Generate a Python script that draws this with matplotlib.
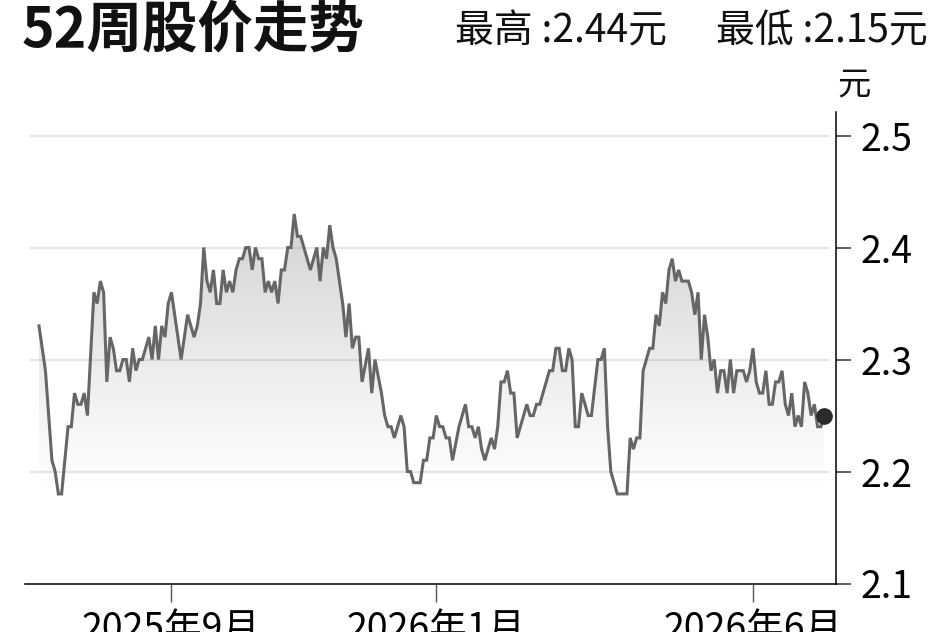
import numpy as np
import matplotlib
matplotlib.use("Agg")
import matplotlib.pyplot as plt

# ---- data (trading-day index, closing price) ----
days = [0, 2, 4, 5, 6, 7, 9, 10, 11, 12, 13, 14, 15, 17, 18, 19, 20, 21, 22, 23,
        24, 25, 26, 27, 28, 29, 30, 31, 32, 33, 34, 35, 36, 37, 38, 39, 40, 41, 42, 44,
        46, 47, 48, 49, 50, 51, 52, 53, 54, 55, 56, 57, 58, 59, 60, 61, 62, 63, 64, 65,
        66, 67, 68, 69, 70, 71, 72, 73, 74, 75, 76, 77, 78, 79, 80, 81, 82, 84, 86, 87,
        88, 89, 90, 91, 92, 93, 94, 95, 96, 97, 98, 99, 100, 102, 103, 104, 106, 107, 108, 109,
        110, 112, 113, 114, 115, 116, 118, 119, 120, 121, 122, 123, 124, 125, 126, 127, 128, 130, 132, 133,
        134, 135, 136, 137, 138, 140, 141, 142, 143, 144, 145, 146, 147, 148, 151, 152, 153, 154, 155, 158,
        159, 160, 161, 162, 163, 164, 165, 166, 167, 168, 170, 171, 173, 174, 175, 176, 177, 178, 179, 182,
        183, 184, 185, 186, 187, 189, 190, 191, 192, 193, 194, 195, 196, 197, 198, 199, 201, 202, 203, 204,
        205, 206, 207, 208, 209, 210, 211, 212, 213, 214, 215, 216, 218, 219, 220, 221, 222, 223, 224, 225,
        226, 227, 228, 229, 230, 231, 232, 233, 234, 235, 236, 237, 238, 239, 240, 241, 242, 243]
price = [2.33, 2.29, 2.21, 2.20, 2.18, 2.18, 2.24, 2.24, 2.27, 2.26, 2.26, 2.27, 2.25, 2.36, 2.35, 2.37, 2.36, 2.28, 2.32, 2.31,
         2.29, 2.29, 2.30, 2.30, 2.28, 2.31, 2.29, 2.30, 2.30, 2.31, 2.32, 2.30, 2.33, 2.30, 2.33, 2.32, 2.35, 2.36, 2.34, 2.30,
         2.34, 2.33, 2.32, 2.33, 2.35, 2.40, 2.37, 2.36, 2.38, 2.35, 2.35, 2.38, 2.36, 2.37, 2.36, 2.38, 2.39, 2.39, 2.40, 2.40,
         2.38, 2.40, 2.39, 2.39, 2.36, 2.37, 2.36, 2.37, 2.35, 2.38, 2.38, 2.40, 2.40, 2.43, 2.41, 2.41, 2.40, 2.38, 2.40, 2.37,
         2.40, 2.39, 2.42, 2.40, 2.39, 2.37, 2.35, 2.32, 2.35, 2.31, 2.32, 2.32, 2.28, 2.31, 2.27, 2.30, 2.27, 2.25, 2.24, 2.24,
         2.23, 2.25, 2.24, 2.20, 2.20, 2.19, 2.19, 2.21, 2.21, 2.23, 2.23, 2.25, 2.24, 2.24, 2.23, 2.23, 2.21, 2.24, 2.26, 2.24,
         2.24, 2.23, 2.24, 2.22, 2.21, 2.23, 2.22, 2.24, 2.28, 2.28, 2.29, 2.27, 2.27, 2.23, 2.26, 2.25, 2.25, 2.26, 2.26, 2.29,
         2.29, 2.31, 2.31, 2.29, 2.29, 2.31, 2.30, 2.24, 2.24, 2.27, 2.25, 2.25, 2.30, 2.30, 2.31, 2.24, 2.20, 2.19, 2.18, 2.18,
         2.23, 2.22, 2.23, 2.23, 2.29, 2.31, 2.31, 2.34, 2.33, 2.36, 2.35, 2.38, 2.39, 2.37, 2.38, 2.37, 2.37, 2.36, 2.34, 2.36,
         2.30, 2.34, 2.32, 2.29, 2.30, 2.27, 2.29, 2.29, 2.27, 2.30, 2.27, 2.29, 2.29, 2.28, 2.29, 2.31, 2.28, 2.27, 2.27, 2.29,
         2.26, 2.26, 2.28, 2.28, 2.29, 2.26, 2.25, 2.27, 2.24, 2.25, 2.24, 2.28, 2.27, 2.25, 2.26, 2.24, 2.24, 2.25]

tick_days = [41, 123, 221]
tick_labels = ["2025年9月", "2026年1月", "2026年6月"]
y_ticks = [2.1, 2.2, 2.3, 2.4, 2.5]
y_labels = ["2.1", "2.2", "2.3", "2.4", "2.5"]
title = "52周股价走势"
high_text = "最高 :2.44元"
low_text = "最低 :2.15元"
unit = "元"

CJK = ["Noto Sans CJK SC", "DejaVu Sans"]

fig = plt.figure(figsize=(9.48, 6.32), dpi=100)
ax = fig.add_axes([25/948, 48.5/632, (836-25)/948, (583.5-112)/632])

x = np.array(days, dtype=float)
y = np.array(price)

# gradient fill under the line
y0, y1 = 2.18, 2.44
grad = np.linspace(0, 1, 256).reshape(-1, 1)
base = np.array([0.55, 0.565, 0.59])
rgba = np.zeros((256, 1, 4))
rgba[..., :3] = base
rgba[..., 3] = np.clip(grad, 0, 1) ** 1.1 * 0.42
poly = ax.fill_between(x, y, 2.1, facecolor="none", edgecolor="none")
im = ax.imshow(rgba, extent=[x.min(), x.max(), y0, y1], origin="lower",
               aspect="auto", zorder=1, interpolation="bilinear")
im.set_clip_path(poly.get_paths()[0], transform=ax.transData)

for gy in [2.2, 2.3, 2.4, 2.5]:
    ax.axhline(gy, xmin=6/811, xmax=803/811, color="#e6e6e6", lw=1.6, zorder=0.5)

ax.plot(x, y, color="#666666", lw=2.2, zorder=3, solid_joinstyle="miter")
ax.plot([x[-1]], [y[-1]], "o", color="#2b2b2b", ms=11, zorder=4)

ax.set_xlim(-4.33, 246.7)
ax.set_ylim(2.1, 2.521)

for s in ["left", "top"]:
    ax.spines[s].set_visible(False)
ax.spines["right"].set_linewidth(1.1)
ax.spines["bottom"].set_linewidth(1.1)
ax.yaxis.tick_right()
ax.set_yticks(y_ticks)
ax.set_yticklabels(y_labels, fontfamily=CJK, fontsize=27)
ax.set_xticks(tick_days)
ax.set_xticklabels(tick_labels, fontfamily=CJK, fontsize=27)
ax.tick_params(axis="y", direction="out", length=11, width=1.1, color="#333333", pad=7)
ax.tick_params(axis="x", direction="out", length=13, width=1.0, color="#555555", pad=6)

fig.text(22/948, 1-46/632, title, fontfamily=CJK, fontweight="bold", fontsize=40,
         ha="left", va="baseline", color="#111111")
fig.text(455/948, 1-42/632, high_text, fontfamily=CJK, fontsize=28,
         ha="left", va="baseline", color="#111111")
fig.text(928/948, 1-42/632, low_text, fontfamily=CJK, fontsize=28,
         ha="right", va="baseline", color="#111111")
fig.text(854/948, 1-85/632, unit, fontfamily=CJK, fontsize=24,
         ha="center", va="center", color="#111111")

fig.savefig("out.png", dpi=100)
